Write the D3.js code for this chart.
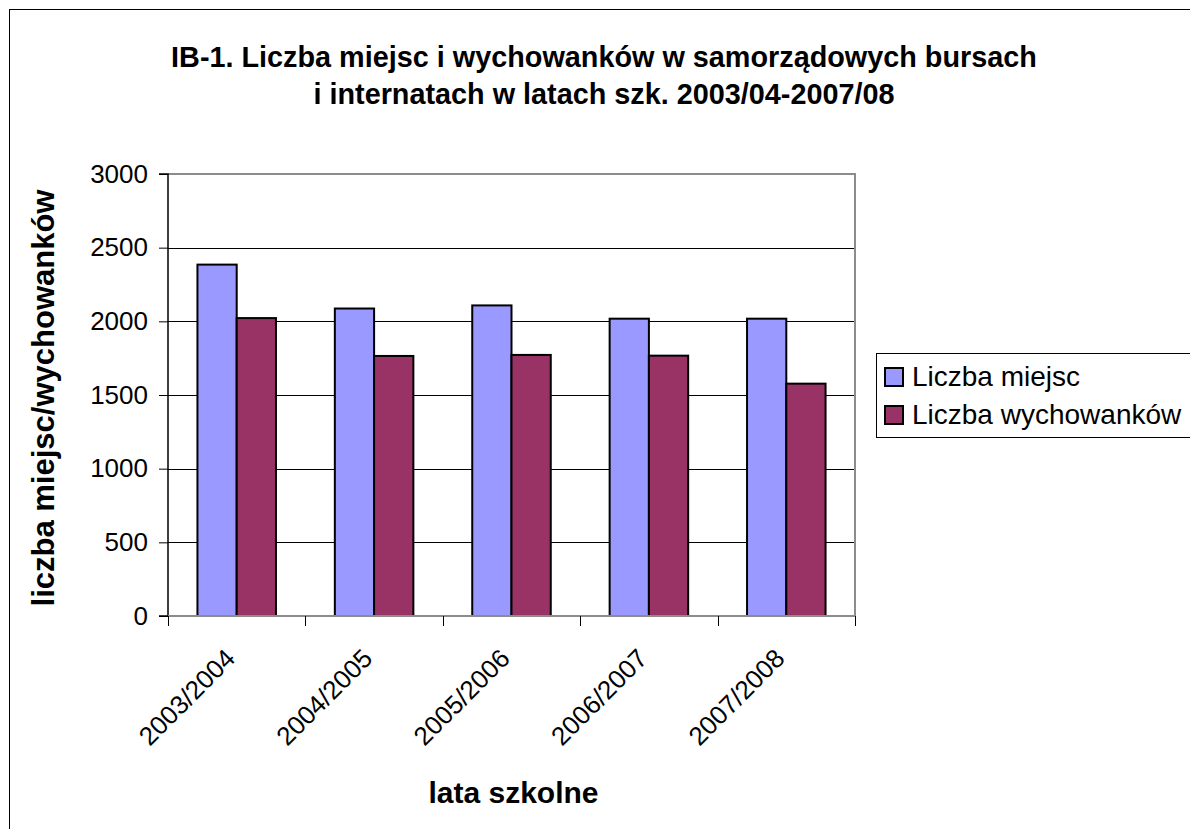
<!DOCTYPE html>
<html>
<head>
<meta charset="utf-8">
<script src="https://cdn.jsdelivr.net/npm/d3@7"></script>
<style>
  html, body { margin: 0; padding: 0; background: #fff; }
  svg { display: block; font-family: "Liberation Sans", Arial, sans-serif; }
</style>
</head>
<body>
<svg id="chart" width="1190" height="829"></svg>
<script>
const categories = ["2003/2004", "2004/2005", "2005/2006", "2006/2007", "2007/2008"];
const seriesNames = ["Liczba miejsc", "Liczba wychowanków"];
const liczbaMiejsc = [2385, 2087, 2108, 2018, 2018];
const liczbaWychowankow = [2022, 1765, 1772, 1767, 1577];
const yTicks = [0, 500, 1000, 1500, 2000, 2500, 3000];
const colors = ["#9999FF", "#993366"];
const titleLines = ["IB-1. Liczba miejsc i wychowanków w samorządowych bursach",
                    "i internatach w latach szk. 2003/04-2007/08"];
const xTitle = "lata szkolne";
const yTitle = "liczba miejsc/wychowanków";

const svg = d3.select("#chart");
const W = 1190, H = 829;
const plot = { left: 168, right: 855, top: 174, bottom: 616 };

// outer frame
svg.append("rect").attr("x", 9.5).attr("y", 9.5).attr("width", W + 20).attr("height", H + 20)
  .attr("fill", "#fff").attr("stroke", "#000").attr("stroke-width", 1);

const x0 = d3.scaleBand().domain(categories).range([plot.left, plot.right]).paddingInner(0).paddingOuter(0);
const y = d3.scaleLinear().domain([0, 3000]).range([plot.bottom, plot.top]);
const x1 = d3.scaleBand().domain(seriesNames).range([0, x0.bandwidth()]).paddingInner(0).paddingOuter(0.75);

// gridlines
svg.append("g").selectAll("line").data(yTicks.filter(d => d > 0 && d < 3000)).join("line")
  .attr("x1", plot.left).attr("x2", plot.right)
  .attr("y1", d => Math.round(y(d)) + 0.5).attr("y2", d => Math.round(y(d)) + 0.5)
  .attr("stroke", "#000").attr("stroke-width", 1);

// plot border top/right gray
svg.append("path")
  .attr("d", `M${plot.left},${plot.top}H${plot.right}V${plot.bottom}`)
  .attr("fill", "none").attr("stroke", "#8c8c8c").attr("stroke-width", 2);

// bars
const data = categories.map((c, i) => ({ cat: c, vals: [liczbaMiejsc[i], liczbaWychowankow[i]] }));
const groups = svg.append("g").selectAll("g").data(data).join("g")
  .attr("transform", d => `translate(${x0(d.cat)},0)`);
groups.selectAll("rect").data(d => d.vals.map((v, j) => ({ v, j }))).join("rect")
  .attr("x", d => x1(seriesNames[d.j]))
  .attr("width", x1.bandwidth())
  .attr("y", d => y(d.v))
  .attr("height", d => y(0) - y(d.v))
  .attr("fill", d => colors[d.j])
  .attr("stroke", "#000").attr("stroke-width", 2);

// y axis
const yAxis = d3.axisLeft(y).tickValues(yTicks).tickSize(9).tickPadding(11).tickFormat(d3.format("d"));
const gy = svg.append("g").attr("transform", `translate(${plot.left},0)`).call(yAxis);
gy.select(".domain").attr("stroke", "#000").attr("stroke-width", 1.5).attr("d", `M-9,${plot.top}H0V${plot.bottom}H-9`);
gy.selectAll(".tick line").attr("stroke", "#000").attr("stroke-width", 1);
gy.selectAll(".tick text").attr("font-size", 26).attr("fill", "#000")
  .attr("font-family", "'Liberation Sans', Arial, sans-serif");

// x axis
const gx = svg.append("g").attr("transform", `translate(0,${plot.bottom})`);
gx.append("line").attr("x1", plot.left).attr("x2", plot.right).attr("y1", 0).attr("y2", 0)
  .attr("stroke", "#8c8c8c").attr("stroke-width", 2);
const boundaries = categories.map(c => x0(c)).concat([plot.right]);
gx.selectAll("line.tk").data(boundaries).join("line").attr("class", "tk")
  .attr("x1", d => Math.round(d) + 0.5).attr("x2", d => Math.round(d) + 0.5)
  .attr("y1", 0).attr("y2", 10).attr("stroke", "#000").attr("stroke-width", 1);
gx.selectAll("text.cat").data(categories).join("text").attr("class", "cat")
  .attr("transform", d => `translate(${x0(d) + x0.bandwidth() / 2},44) rotate(-45)`)
  .attr("text-anchor", "end").attr("font-size", 26).attr("fill", "#000")
  .text(d => d);

// titles
svg.append("g").selectAll("text").data(titleLines).join("text")
  .attr("x", 604).attr("y", (d, i) => 67 + i * 37)
  .attr("text-anchor", "middle").attr("font-size", 28.8).attr("font-weight", "bold")
  .text(d => d);

svg.append("text").attr("x", (plot.left + plot.right) / 2 + 2).attr("y", 803)
  .attr("text-anchor", "middle").attr("font-size", 30).attr("font-weight", "bold").text(xTitle);

svg.append("text").attr("transform", `translate(54,398) rotate(-90)`)
  .attr("text-anchor", "middle").attr("font-size", 31).attr("font-weight", "bold").text(yTitle);

// legend
const lg = svg.append("g").attr("transform", "translate(876,353)");
lg.append("rect").attr("x", 0.5).attr("y", 0.5).attr("width", 330).attr("height", 84)
  .attr("fill", "#fff").attr("stroke", "#000").attr("stroke-width", 1);
const li = lg.selectAll("g.item").data(seriesNames).join("g").attr("class", "item")
  .attr("transform", (d, i) => `translate(0,${15 + i * 38})`);
li.append("rect").attr("x", 9).attr("y", 0).attr("width", 18).attr("height", 18)
  .attr("fill", (d, i) => colors[i]).attr("stroke", "#000").attr("stroke-width", 2);
li.append("text").attr("x", 36).attr("y", 18).attr("font-size", 28).text(d => d);
</script>
</body>
</html>
